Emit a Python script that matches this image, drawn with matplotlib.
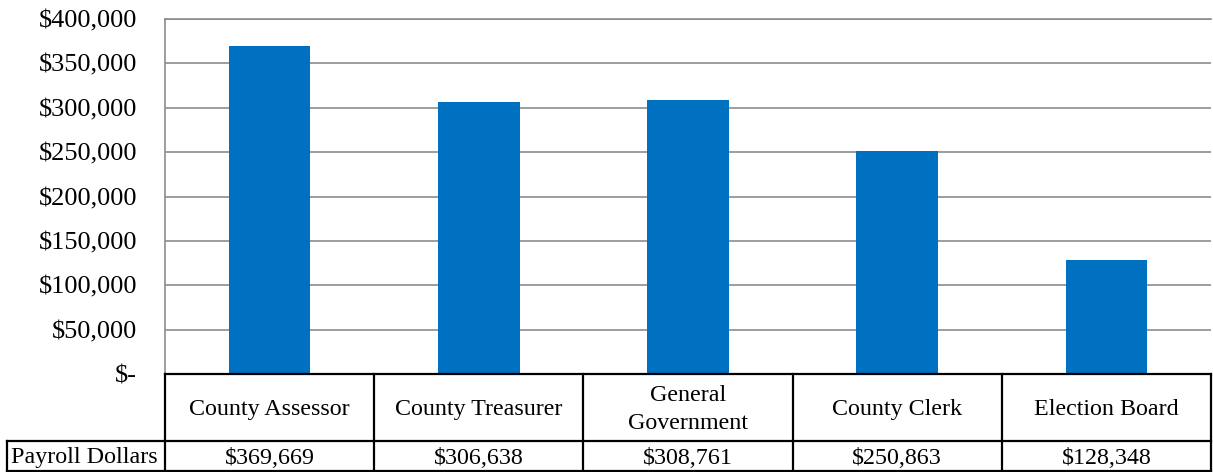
import matplotlib.pyplot as plt
from matplotlib.lines import Line2D
from matplotlib.ticker import FuncFormatter

categories = ["County Assessor", "County Treasurer", "General\nGovernment", "County Clerk", "Election Board"]
payroll = [369669, 306638, 308761, 250863, 128348]
series_name = "Payroll Dollars"
yticks = [0, 50000, 100000, 150000, 200000, 250000, 300000, 350000, 400000]

W, H = 1213, 472
plt.rcParams['font.family'] = ['Liberation Serif', 'DejaVu Serif']
FS_TICK = 19
FS_TAB = 17.3

fig = plt.figure(figsize=(W / 100, H / 100), dpi=100)

# pixel positions of the plot area
x0, x1 = 165, 1211
ytop, ybot = 19, 374
yrow, yend = 441, 471

ax = fig.add_axes([x0 / W, 1 - ybot / H, (x1 - x0) / W, (ybot - ytop) / H])
ax.bar(range(len(payroll)), payroll, width=0.39, color='#0070C0', zorder=3)
ax.set_xlim(-0.5, len(payroll) - 0.5)
ax.set_ylim(0, 400000)
ax.set_yticks(yticks)
ax.yaxis.set_major_formatter(FuncFormatter(lambda v, p: "$-" if v == 0 else f"${v:,.0f}"))
ax.tick_params(axis='y', length=0, pad=20, labelsize=FS_TICK)
ax.set_xticks([])
ax.grid(axis='y', color='#8c8c8c', linewidth=1.2, zorder=0)
for s in ['left', 'top']:
    ax.spines[s].set_color('#8c8c8c')
    ax.spines[s].set_linewidth(1.2)
ax.spines['right'].set_visible(False)
ax.spines['bottom'].set_visible(False)


def fx(px):
    return px / W


def fy(py):
    return 1 - py / H


def line(xa, ya, xb, yb):
    fig.add_artist(Line2D([fx(xa), fx(xb)], [fy(ya), fy(yb)], color='black', linewidth=1.6))


# data table below the chart
n = len(categories)
colw = (x1 - x0) / n
line(x0, ybot, x1, ybot)
line(7, yrow, x1, yrow)
line(7, yend, x1, yend)
line(7, yrow, 7, yend)
for i in range(n + 1):
    line(x0 + i * colw, ybot, x0 + i * colw, yend)
for i, (c, v) in enumerate(zip(categories, payroll)):
    cx = x0 + (i + 0.5) * colw
    fig.text(fx(cx), fy((ybot + yrow) / 2 + 2), c, ha='center', va='center', fontsize=FS_TAB, linespacing=1.4)
    fig.text(fx(cx), fy((yrow + yend) / 2 + 2), f"${v:,}", ha='center', va='center', fontsize=FS_TAB)
fig.text(fx(84), fy((yrow + yend) / 2 + 2), series_name, ha='center', va='center', fontsize=FS_TAB)

fig.savefig("out.png", dpi=100)
